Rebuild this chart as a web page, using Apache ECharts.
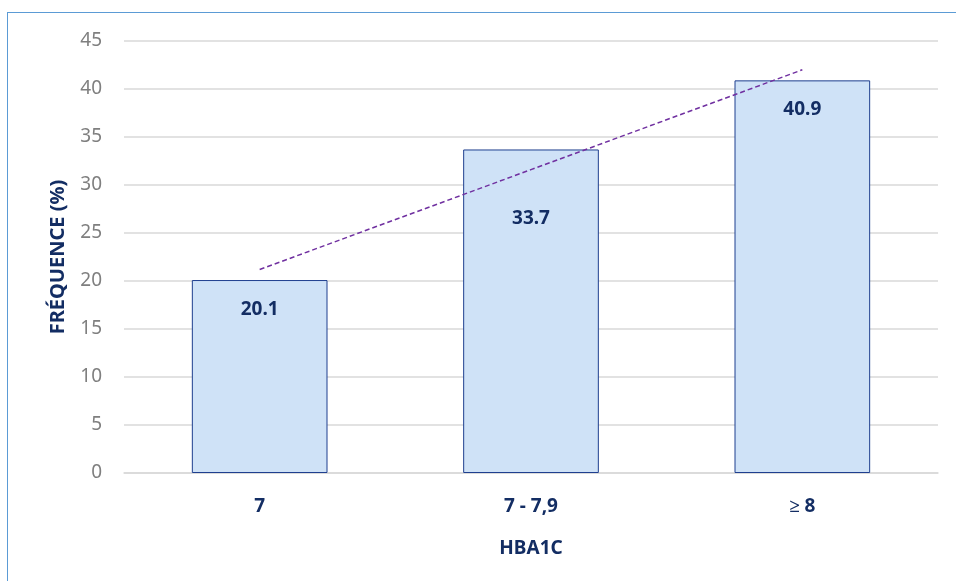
<!DOCTYPE html>
<html>
<head>
<meta charset="utf-8">
<script src="https://cdn.jsdelivr.net/npm/echarts@6/dist/echarts.min.js"></script>
<style>
  html, body { margin: 0; padding: 0; background: #fff; }
  #frame { position: absolute; left: 7px; top: 12px; width: 949px; height: 569px;
           border-left: 1.5px solid #5b9bd5; border-top: 1.5px solid #5b9bd5; box-sizing: border-box; }
  #chart { position: absolute; left: 0; top: 0; width: 956px; height: 581px; }
</style>
</head>
<body>
<div id="frame"></div>
<div id="chart"></div>
<script>
    'use strict'

    // categories and values
    var categories = ['7', '7 - 7,9', '\u2265 8'];
    var frequence = [20.1, 33.7, 40.9];
    // linear trend line, read at each category centre
    var trend = [21.2, 31.6, 42.0];
    var yTicks = [0, 5, 10, 15, 20, 25, 30, 35, 40, 45];
    // the middle label sits lower in the bar, clear of the trend line
    var labelDistance = [20, 60, 20];

    var navy = '#132d63';
    var font = 'Noto Sans';

    var chart = echarts.init(document.getElementById('chart'));

    var barData = frequence.map(function (v, i) {
        return { value: v, label: { distance: labelDistance[i] } };
    });

    var option = {
        animation: false,
        textStyle: { fontFamily: font },
        grid: { left: 124, right: 18, top: 41, bottom: 108 },
        xAxis: {
            type: 'category',
            data: categories,
            name: 'HBA1C',
            nameLocation: 'middle',
            nameGap: 66,
            nameTextStyle: { color: navy, fontWeight: 'bold', fontSize: 19, fontFamily: font },
            axisLine: { lineStyle: { color: '#d9d9d9', width: 1.5 } },
            axisTick: { show: false },
            axisLabel: { color: navy, fontWeight: 'bold', fontSize: 19, margin: 24, fontFamily: font }
        },
        yAxis: {
            type: 'value',
            min: yTicks[0],
            max: yTicks[yTicks.length - 1],
            interval: 5,
            name: 'FRÉQUENCE (%)',
            nameLocation: 'middle',
            nameGap: 56,
            nameRotate: 90,
            nameTextStyle: { color: navy, fontWeight: 'bold', fontSize: 20, fontFamily: font },
            axisLine: { show: false },
            axisTick: { show: false },
            axisLabel: { color: '#7f7f7f', fontSize: 19, margin: 22, fontFamily: font },
            splitLine: { lineStyle: { color: '#d9d9d9', width: 1.5 } }
        },
        series: [
            {
                type: 'bar',
                data: barData,
                barWidth: '50%',
                itemStyle: { color: '#cfe2f7', borderColor: '#1f3f8f', borderWidth: 1 },
                label: {
                    show: true,
                    position: 'insideTop',
                    color: navy,
                    fontWeight: 'bold',
                    fontSize: 19,
                    fontFamily: font
                },
                z: 2
            },
            {
                type: 'line',
                data: trend,
                symbol: 'none',
                silent: true,
                lineStyle: { color: '#7030a0', width: 1.5, type: [5, 3] },
                z: 5
            }
        ]
    };

    chart.setOption(option);
</script>
</body>
</html>
